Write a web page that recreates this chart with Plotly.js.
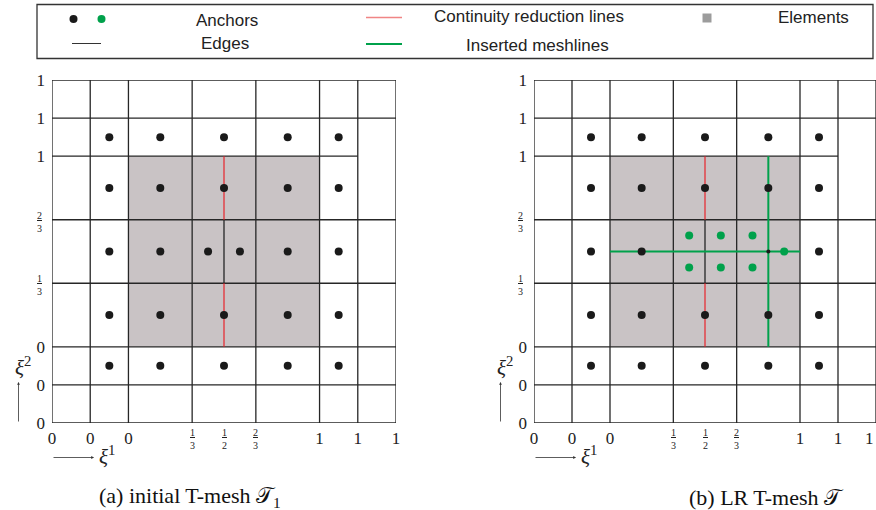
<!DOCTYPE html>
<html><head><meta charset="utf-8">
<script src="https://cdn.plot.ly/plotly-3.0.1.min.js"></script>
<style>html,body{margin:0;padding:0;background:#fff;}#chart{width:876px;height:510px;}</style>
</head><body><div id="chart"></div>
<script>
// ---------- data ----------
const meshPos = [-0.4, -0.2, 0, 1/3, 2/3, 1, 1.2, 1.4];
const tickVals = [-0.4, -0.2, 0, 1, 1.2, 1.4];
const tickText = ['0', '0', '0', '1', '1', '1'];
const xFracVals = [1/3, 1/2, 2/3];
const xFracNum = ['1', '1', '2'];
const xFracDen = ['3', '2', '3'];
const yFracVals = [1/3, 2/3];
const yFracNum = ['1', '2'];
const yFracDen = ['3', '3'];

// horizontal edges: [y, x0, x1]
const hEdges = [[-0.4,-0.4,1.4],[-0.2,-0.4,1.4],[0,-0.4,1.4],[1/3,-0.4,1.4],[2/3,-0.4,1.4],[1,-0.4,1.2],[1.2,-0.4,1.4],[1.4,-0.4,1.4]];
// vertical edges: [x, y0, y1]
const vEdges = [[-0.4,-0.4,1.4],[-0.2,-0.4,1.4],[0,-0.4,1.4],[1/3,-0.4,1.4],[2/3,-0.4,1.4],[1,-0.4,1.4],[1.2,-0.4,1.4],[1.4,-0.4,1.4],[0.5,1/3,2/3]];
// continuity reduction lines (vertical): [x, y0, y1]
const redV = [[0.5,0,1/3],[0.5,2/3,1]];
// inserted meshlines (right panel)
const greenH = [[0.5,0,1]];   // [y, x0, x1]
const greenV = [[5/6,0,1]];   // [x, y0, y1]
// elements region
const elemX = [0, 1, 1, 0, 0];
const elemY = [0, 0, 1, 1, 0];

// anchors, panel (a)
const ancAx = [-0.1,1/6,0.5,5/6,1.1, -0.1,1/6,0.5,5/6,1.1, -0.1,1/6,5/12,7/12,5/6,1.1, -0.1,1/6,0.5,5/6,1.1, -0.1,1/6,0.5,5/6,1.1];
const ancAy = [1.1,1.1,1.1,1.1,1.1, 5/6,5/6,5/6,5/6,5/6, 0.5,0.5,0.5,0.5,0.5,0.5, 1/6,1/6,1/6,1/6,1/6, -0.1,-0.1,-0.1,-0.1,-0.1];
// anchors, panel (b) black
const ancBx = [-0.1,1/6,0.5,5/6,1.1, -0.1,1/6,0.5,5/6,1.1, -0.1,1/6,1.1, -0.1,1/6,0.5,5/6,1.1, -0.1,1/6,0.5,5/6,1.1];
const ancBy = [1.1,1.1,1.1,1.1,1.1, 5/6,5/6,5/6,5/6,5/6, 0.5,0.5,0.5, 1/6,1/6,1/6,1/6,1/6, -0.1,-0.1,-0.1,-0.1,-0.1];
// anchors, panel (b) green (new)
const ancGx = [5/12,7/12,3/4, 5/12,7/12,3/4, 11/12];
const ancGy = [7/12,7/12,7/12, 5/12,5/12,5/12, 0.5];
// small marker at meshline crossing
const crossX = [5/6];
const crossY = [0.5];

// ---------- helpers ----------
function hSeg(list){const x=[],y=[];list.forEach(s=>{x.push(s[1],s[2],null);y.push(s[0],s[0],null);});return {x,y};}
function vSeg(list){const x=[],y=[];list.forEach(s=>{x.push(s[0],s[0],null);y.push(s[1],s[2],null);});return {x,y};}
function merge(a,b){return {x:a.x.concat(b.x),y:a.y.concat(b.y)};}

const BLACK='#262626', RED='#e8232a', GREEN='#00a14b', SHADE='#c9c3c5';
const edges = merge(hSeg(hEdges), vSeg(vEdges));
const reds = vSeg(redV);
const greens = merge(hSeg(greenH), vSeg(greenV));

function panelTraces(xa, ya, right){
  const t = [];
  t.push({x:elemX,y:elemY,xaxis:xa,yaxis:ya,mode:'lines',fill:'toself',fillcolor:SHADE,line:{width:0,color:SHADE},hoverinfo:'skip',showlegend:false});
  t.push({x:edges.x,y:edges.y,xaxis:xa,yaxis:ya,mode:'lines',line:{color:BLACK,width:1.3},cliponaxis:false,hoverinfo:'skip',showlegend:false,connectgaps:false});
  t.push({x:reds.x,y:reds.y,xaxis:xa,yaxis:ya,mode:'lines',line:{color:RED,width:1.2},cliponaxis:false,hoverinfo:'skip',showlegend:false});
  if(right){
    t.push({x:greens.x,y:greens.y,xaxis:xa,yaxis:ya,mode:'lines',line:{color:GREEN,width:2},cliponaxis:false,hoverinfo:'skip',showlegend:false});
    t.push({x:ancBx,y:ancBy,xaxis:xa,yaxis:ya,mode:'markers',marker:{color:'#1a1a1a',size:8},hoverinfo:'skip',showlegend:false});
    t.push({x:ancGx,y:ancGy,xaxis:xa,yaxis:ya,mode:'markers',marker:{color:GREEN,size:8},hoverinfo:'skip',showlegend:false});
    t.push({x:crossX,y:crossY,xaxis:xa,yaxis:ya,mode:'markers',marker:{color:'#1a1a1a',size:4},hoverinfo:'skip',showlegend:false});
  } else {
    t.push({x:ancAx,y:ancAy,xaxis:xa,yaxis:ya,mode:'markers',marker:{color:'#1a1a1a',size:8},hoverinfo:'skip',showlegend:false});
  }
  return t;
}

const data = panelTraces('x','y',false).concat(panelTraces('x2','y2',true));

// pixel -> paper
const L=52, W=824, T=80, H=343;
const P = px => (px-L)/W;
const Q = py => (T+H-py)/H;

const tickFont = {family:'Liberation Serif, Times New Roman, serif', size:17, color:'#222'};
function axis(domain, anchor, isX){
  return {domain:domain, anchor:anchor, range:[-0.4,1.4], showgrid:false, zeroline:false, showline:false,
    ticks:'', tickmode:'array', tickvals:tickVals, ticktext:tickText, tickfont:tickFont,
    ticklabelstandoff: isX ? 3 : 6, fixedrange:true};
}

const annotations = [];
const shapes = [];
const fracFont = {family:'Liberation Serif, Times New Roman, serif', size:10, color:'#222'};
// fraction tick labels
['x','x2'].forEach(xr=>{
  xFracVals.forEach((v,i)=>{
    annotations.push({xref:xr, yref:'paper', x:v, y:Q(439), xanchor:'center', yanchor:'middle', showarrow:false,
      text:'<u>'+xFracNum[i]+'</u><br>'+xFracDen[i], font:fracFont});
  });
});
[['y',39],['y2',520]].forEach(([yr,cx])=>{
  yFracVals.forEach((v,i)=>{
    annotations.push({xref:'paper', yref:yr, x:P(cx), y:v, xanchor:'center', yanchor:'middle', yshift:-2, showarrow:false,
      text:'<u>'+yFracNum[i]+'</u><br>'+yFracDen[i], font:fracFont});
  });
});
// last tick label of the right panel sits at the page edge
annotations.push({xref:'x2', yref:'paper', x:tickVals[tickVals.length-1], y:Q(438), xanchor:'right', yanchor:'middle', showarrow:false,
  text:tickText[tickText.length-1], font:tickFont});

// axis direction arrows and xi labels
const xiFont = {family:'Liberation Serif, Times New Roman, serif', size:21, color:'#222'};
[0, 482].forEach(off=>{
  annotations.push({xref:'paper',yref:'paper',x:P(94+off),y:Q(457.5),ax:-42,ay:0,text:'',showarrow:true,arrowhead:2,arrowsize:0.7,arrowwidth:0.8,arrowcolor:'#333',standoff:0});
  annotations.push({xref:'paper',yref:'paper',x:P(18.5+off),y:Q(382),ax:0,ay:41,text:'',showarrow:true,arrowhead:2,arrowsize:0.7,arrowwidth:0.8,arrowcolor:'#333',standoff:0});
  annotations.push({xref:'paper',yref:'paper',x:P(107+off),y:Q(456),xanchor:'center',yanchor:'middle',showarrow:false,text:'<i>ξ</i><sup>1</sup>',font:xiFont});
  annotations.push({xref:'paper',yref:'paper',x:P(23+off),y:Q(366),xanchor:'center',yanchor:'middle',showarrow:false,text:'<i>ξ</i><sup>2</sup>',font:xiFont});
});

// captions
const capFont = {family:'Liberation Serif, Times New Roman, serif', size:22, color:'#111'};
annotations.push({xref:'paper',yref:'paper',x:P(190),y:Q(497),xanchor:'center',yanchor:'middle',showarrow:false,text:'(a) initial T-mesh 𝒯<sub>1</sub>',font:capFont});
annotations.push({xref:'paper',yref:'paper',x:P(766),y:Q(497),xanchor:'center',yanchor:'middle',showarrow:false,text:'(b) LR T-mesh 𝒯',font:capFont});

// legend box
const legFont = {family:'Liberation Sans, Arial, sans-serif', size:17, color:'#222'};
shapes.push({type:'rect',xref:'paper',yref:'paper',x0:P(37),x1:P(873),y0:Q(58.5),y1:Q(4.5),line:{color:'#333',width:1.3},fillcolor:'rgba(0,0,0,0)'});
function dot(cx,cy,col){shapes.push({type:'circle',xref:'paper',yref:'paper',x0:P(cx-4),x1:P(cx+4),y0:Q(cy+4),y1:Q(cy-4),fillcolor:col,line:{width:0}});}
dot(73.5,19,'#1a1a1a');
dot(101.5,19,GREEN);
shapes.push({type:'line',xref:'paper',yref:'paper',x0:P(72),x1:P(101),y0:Q(43.5),y1:Q(43.5),line:{color:'#333',width:1}});
shapes.push({type:'line',xref:'paper',yref:'paper',x0:P(366),x1:P(402),y0:Q(17.5),y1:Q(17.5),line:{color:'#f08585',width:1.5}});
shapes.push({type:'line',xref:'paper',yref:'paper',x0:P(366),x1:P(402),y0:Q(44),y1:Q(44),line:{color:GREEN,width:2}});
shapes.push({type:'rect',xref:'paper',yref:'paper',x0:P(702.5),x1:P(711.5),y0:Q(22.5),y1:Q(13.5),fillcolor:'#9c9c9c',line:{width:0}});
function legText(cx,cy,t){annotations.push({xref:'paper',yref:'paper',x:P(cx),y:Q(cy),xanchor:'center',yanchor:'middle',showarrow:false,text:t,font:legFont});}
legText(227,20,'Anchors');
legText(225,43.5,'Edges');
legText(528.5,16.5,'Continuity reduction lines');
legText(537.5,45,'Inserted meshlines');
legText(813,17,'Elements');

const layout = {
  width:876, height:510,
  margin:{l:L, r:876-L-W, t:T, b:510-T-H, pad:0},
  paper_bgcolor:'#fff', plot_bgcolor:'rgba(0,0,0,0)',
  showlegend:false,
  xaxis: axis([0, 344/824], 'y', true),
  yaxis: axis([0, 1], 'x', false),
  xaxis2: axis([482/824, 1], 'y2', true),
  yaxis2: axis([0, 1], 'x2', false),
  annotations: annotations,
  shapes: shapes
};

Plotly.newPlot('chart', data, layout, {displayModeBar:false, staticPlot:true});
</script>
</body></html>
